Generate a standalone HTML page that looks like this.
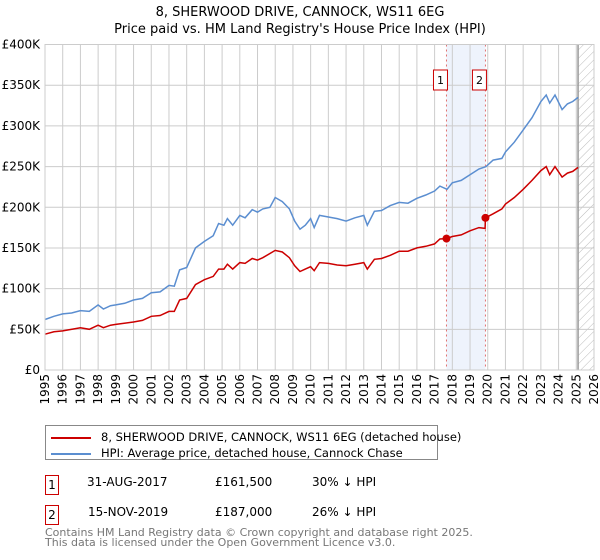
<!DOCTYPE html>
<html><head><meta charset="utf-8"><style>
body{margin:0;background:#fff;font-family:"Liberation Sans","DejaVu Sans",sans-serif;}
#wrap{position:relative;width:600px;height:560px;overflow:hidden}
svg text{font-family:"DejaVu Sans","Liberation Sans",sans-serif}
</style></head><body><div id="wrap">
<svg id="chart" width="600" height="560">
<defs><pattern id="hatch" width="6" height="6" patternUnits="userSpaceOnUse" patternTransform="rotate(45)"><line x1="0" y1="0" x2="0" y2="6" stroke="#bbb" stroke-width="1"/></pattern></defs>
<text x="300" y="16" text-anchor="middle" font-size="13">8, SHERWOOD DRIVE, CANNOCK, WS11 6EG</text>
<text x="300" y="33" text-anchor="middle" font-size="13">Price paid vs. HM Land Registry's House Price Index (HPI)</text>
<g id="grid"></g><g id="marks"></g><g id="axes"></g>
</svg>
<div style="position:absolute;left:45px;top:425px;width:393px;height:35px;border:1px solid #888;box-sizing:border-box;font:11.5px 'DejaVu Sans',sans-serif">
<div style="position:absolute;left:5px;top:4px;white-space:nowrap"><span style="display:inline-block;width:40px;height:2px;background:#cc0000;vertical-align:middle;margin-right:10px"></span>8, SHERWOOD DRIVE, CANNOCK, WS11 6EG (detached house)</div>
<div style="position:absolute;left:5px;top:20px;white-space:nowrap"><span style="display:inline-block;width:40px;height:2px;background:#5b8ed0;vertical-align:middle;margin-right:10px"></span>HPI: Average price, detached house, Cannock Chase</div>
</div>
<div style="font:12px 'DejaVu Sans',sans-serif">
<div style="position:absolute;left:45px;top:475px;width:14px;height:20px;border:1px solid #c00;box-sizing:border-box;text-align:center;line-height:18px">1</div>
<div style="position:absolute;left:87px;top:475px">31-AUG-2017</div>
<div style="position:absolute;left:215px;top:475px">£161,500</div>
<div style="position:absolute;left:312px;top:475px">30% ↓ HPI</div>
<div style="position:absolute;left:45px;top:505px;width:14px;height:20px;border:1px solid #c00;box-sizing:border-box;text-align:center;line-height:18px">2</div>
<div style="position:absolute;left:88px;top:505px">15-NOV-2019</div>
<div style="position:absolute;left:215px;top:505px">£187,000</div>
<div style="position:absolute;left:312px;top:505px">26% ↓ HPI</div>
</div>
<div style="position:absolute;left:45px;top:528px;font:11px 'DejaVu Sans',sans-serif;color:#777;line-height:10px;white-space:nowrap">Contains HM Land Registry data © Crown copyright and database right 2025.<br>This data is licensed under the Open Government Licence v3.0.</div>
</div>
<script>
const hpiYears=[1995,1995.5,1996,1996.5,1997,1997.5,1998,1998.3,1998.7,1999,1999.5,2000,2000.5,2001,2001.5,2002,2002.3,2002.6,2003,2003.5,2004,2004.5,2004.8,2005.1,2005.3,2005.6,2006,2006.3,2006.7,2007,2007.3,2007.7,2008,2008.4,2008.8,2009.1,2009.4,2009.7,2010,2010.2,2010.5,2011,2011.5,2012,2012.5,2013,2013.2,2013.6,2014,2014.5,2015,2015.5,2016,2016.5,2017,2017.3,2017.7,2018,2018.5,2019,2019.5,2019.9,2020.3,2020.8,2021,2021.5,2022,2022.5,2023,2023.3,2023.5,2023.8,2024.2,2024.5,2024.8,2025.1];
const hpiValues=[62,66,69,70,73,72,80,75,79,80,82,86,88,95,96,104,103,123,126,150,158,165,180,178,186,178,190,187,197,194,198,200,212,207,198,183,173,178,186,175,190,188,186,183,187,190,178,195,196,202,206,205,211,215,220,226,222,230,233,240,247,250,258,260,268,280,295,310,330,338,328,338,320,327,330,335];
const priceYears=[1995,1995.5,1996,1997,1997.5,1998,1998.3,1998.7,1999,2000,2000.5,2001,2001.5,2002,2002.3,2002.6,2003,2003.5,2004,2004.5,2004.8,2005.1,2005.3,2005.6,2006,2006.3,2006.7,2007,2007.3,2008,2008.4,2008.8,2009.1,2009.4,2009.7,2010,2010.2,2010.5,2011,2011.5,2012,2012.5,2013,2013.2,2013.6,2014,2014.5,2015,2015.5,2016,2016.5,2017,2017.3,2017.67,2018,2018.5,2019,2019.5,2019.85,2019.87,2020.3,2020.8,2021,2021.5,2022,2022.5,2023,2023.3,2023.5,2023.8,2024.2,2024.5,2024.8,2025.1];
const priceValues=[44,47,48,52,50,55,52,55,56,59,61,66,67,72,72,86,88,105,111,115,124,124,130,124,132,131,137,135,138,147,145,138,128,121,124,127,122,132,131,129,128,130,132,124,136,137,141,146,146,150,152,155,161,161.5,164,166,171,175,174,187,192,198,204,212,222,233,245,250,240,250,237,242,244,249];
const saleYears=[2017.67,2019.87];
const saleValues=[161.5,187];
const saleLabels=["1","2"];
const yTicks=[0,50,100,150,200,250,300,350,400];
const yTickLabels=["£0","£50K","£100K","£150K","£200K","£250K","£300K","£350K","£400K"];
const xTicks=[1995,1996,1997,1998,1999,2000,2001,2002,2003,2004,2005,2006,2007,2008,2009,2010,2011,2012,2013,2014,2015,2016,2017,2018,2019,2020,2021,2022,2023,2024,2025,2026];

const X0=45,X1=594,Y0=370,Y1=44.5;
const xs=y=>X0+(y-1995)/(2026-1995)*(X1-X0);
const ys=v=>Y0-v/400*(Y0-Y1);
const NS="http://www.w3.org/2000/svg";
function mk(t,a,p){const e=document.createElementNS(NS,t);for(const k in a)e.setAttribute(k,a[k]);p.appendChild(e);return e;}
const grid=document.getElementById('grid'),marks=document.getElementById('marks'),axes=document.getElementById('axes');
const shade=mk('rect',{x:xs(saleYears[0]),y:Y1,width:xs(saleYears[1])-xs(saleYears[0]),height:Y0-Y1,fill:'#eef3fc'},grid);


const hat=mk('rect',{x:xs(2025.1),y:Y1,width:X1-xs(2025.1),height:Y0-Y1,fill:'url(#hatch)'},grid);


xTicks.forEach(t=>{const l=mk('line',{x1:xs(t),x2:xs(t),y1:Y1,y2:Y0,stroke:'#ccc'},grid);


const tx=mk('text',{x:0,y:0,'font-size':12,'text-anchor':'end',transform:`translate(${xs(t)+4},${Y0+4}) rotate(-90)`},axes);
tx.textContent=t;

});
yTicks.forEach((t,i)=>{const l=mk('line',{x1:X0,x2:X1,y1:ys(t),y2:ys(t),stroke:'#ccc'},grid);


const tx=mk('text',{x:40,y:ys(t)+4,'font-size':12,'text-anchor':'end'},axes);
tx.textContent=yTickLabels[i];

});
const nowL=mk('line',{x1:xs(2025.1),x2:xs(2025.1),y1:Y1,y2:Y0,stroke:'#999','stroke-width':1.5},grid);


saleYears.forEach(s=>{const l=mk('line',{x1:xs(s),x2:xs(s),y1:Y1,y2:Y0,stroke:'#e07070','stroke-dasharray':'2,3'},grid);

});
function path(xa,va){return xa.map((x,i)=>(i?'L':'M')+xs(x).toFixed(1)+','+ys(va[i]).toFixed(1)).join('');}
const hl=mk('path',{d:path(hpiYears,hpiValues),fill:'none',stroke:'#5b8ed0','stroke-width':1.5},marks);


const pl=mk('path',{d:path(priceYears,priceValues),fill:'none',stroke:'#cc0000','stroke-width':1.5},marks);


saleYears.forEach((s,i)=>{const c=mk('circle',{cx:xs(s),cy:ys(saleValues[i]),r:4,fill:'#cc0000'},marks);


const r=mk('rect',{x:xs(s)-13,y:70,width:14,height:20,fill:'#fff',stroke:'#c00'},marks);


const t=mk('text',{x:xs(s)-6,y:84,'font-size':11,'text-anchor':'middle'},marks);
t.textContent=saleLabels[i];

});
const fr=mk('rect',{x:X0,y:Y1,width:X1-X0,height:Y0-Y1,fill:'none',stroke:'#ccc'},axes);


</script></body></html>
